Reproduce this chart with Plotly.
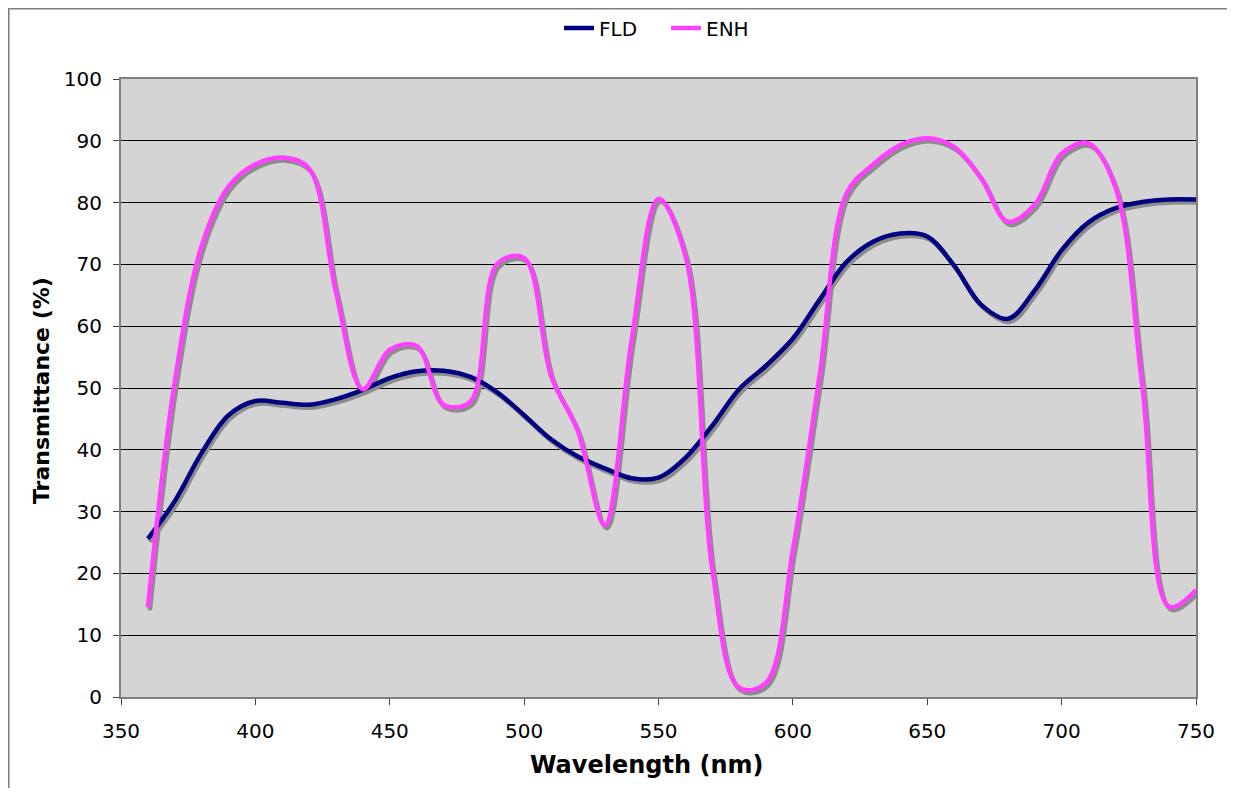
import plotly.graph_objects as go

wavelength = [360, 370, 380, 390, 400, 410, 420, 430, 440, 450,
              460, 470, 480, 490, 500, 510, 520, 530, 540, 550,
              560, 570, 580, 590, 600, 610, 620, 630, 640, 650,
              660, 670, 680, 690, 700, 710, 720, 730, 740, 750]

fld = [25.6, 31.7, 39.5, 45.6, 47.9, 47.6, 47.3, 48.2, 49.7, 51.6,
       52.7, 52.8, 51.8, 49.3, 45.6, 41.7, 38.9, 37.0, 35.4, 35.5,
       38.7, 43.9, 49.8, 53.6, 58.0, 64.3, 70.4, 73.7, 75.0, 74.5,
       69.8, 63.5, 61.2, 65.8, 72.3, 76.8, 79.1, 80.1, 80.5, 80.5]

enh = [14.5, 51.0, 73.0, 82.6, 86.2, 87.3, 85.5, 65.5, 49.8, 56.2,
       56.8, 47.3, 47.8, 70.1, 71.0, 52.0, 43.0, 27.8, 57.8, 80.6,
       71.4, 20.7, 1.5, 2.3, 23.8, 52.2, 81.5, 86.2, 89.3, 90.4,
       89.0, 84.0, 76.9, 79.7, 87.9, 89.6, 82.5, 50.4, 14.6, 17.3]

x_ticks = [350, 400, 450, 500, 550, 600, 650, 700, 750]
y_ticks = [0, 10, 20, 30, 40, 50, 60, 70, 80, 90, 100]

FONT = "DejaVu Sans"
SHADOW = "#8c8c8c"
LW = 4.5

fig = go.Figure()

# empty trace so the main (visible) axes get drawn
fig.add_trace(go.Scatter(x=[], y=[], mode="lines", showlegend=False, hoverinfo="skip",
                         xaxis="x", yaxis="y"))

# shadows (offset overlay axes)
for ys in (fld, enh):
    fig.add_trace(go.Scatter(x=wavelength, y=ys, mode="lines",
                             line=dict(color=SHADOW, width=LW, shape="spline", smoothing=1),
                             xaxis="x2", yaxis="y2", showlegend=False, hoverinfo="skip"))

fig.add_trace(go.Scatter(x=wavelength, y=fld, mode="lines", name="FLD",
                         line=dict(color="#000080", width=LW, shape="spline", smoothing=1),
                         xaxis="x3", yaxis="y3"))
fig.add_trace(go.Scatter(x=wavelength, y=enh, mode="lines", name="ENH",
                         line=dict(color="#ff40ff", width=LW, shape="spline", smoothing=1),
                         xaxis="x3", yaxis="y3"))

# figure is autosized inside the page body (8px offset): 1219 x 780
W, H = 1219, 780
L, R, T, B = 113, 31, 71, 91
pw = W - L - R
ph = H - T - B
dx_px, dy_px = 2.0, 3.0
xr = [350, 750]
yr = [0, 100]
xs = dx_px * (xr[1] - xr[0]) / pw
ys_ = dy_px * (yr[1] - yr[0]) / ph

fig.update_layout(
    margin=dict(l=L, r=R, t=T, b=B, autoexpand=False),
    paper_bgcolor="white",
    plot_bgcolor="#d4d4d4",
    font=dict(family=FONT, size=20, color="black"),
    showlegend=True,
    legend=dict(orientation="h", x=0.507, xanchor="center", y=1.0825, yanchor="middle",
                font=dict(family=FONT, size=20), bgcolor="rgba(0,0,0,0)",
                tracegroupgap=0, entrywidth=62, entrywidthmode="pixels"),
    xaxis=dict(range=xr, tickvals=x_ticks, ticks="outside", ticklen=6, tickcolor="#404040",
               tickwidth=1, showgrid=False, zeroline=False, showline=True, linecolor="#808080",
               linewidth=2, mirror=True, ticklabelstandoff=9),
    yaxis=dict(range=yr, tickvals=y_ticks, ticks="outside", ticklen=6, tickcolor="#404040",
               tickwidth=1, showgrid=True, gridcolor="black", gridwidth=1, zeroline=False,
               showline=True, linecolor="#808080", linewidth=2, mirror=True,
               ticklabelstandoff=7),
    xaxis2=dict(range=[xr[0] - xs, xr[1] - xs], overlaying="x", anchor="y2", visible=False),
    yaxis2=dict(range=[yr[0] + ys_, yr[1] + ys_], overlaying="y", anchor="x2", visible=False),
    xaxis3=dict(range=xr, overlaying="x", anchor="y3", visible=False),
    yaxis3=dict(range=yr, overlaying="y", anchor="x3", visible=False),
)

# axis titles
fig.add_annotation(text="<b>Wavelength (nm)</b>", xref="paper", yref="paper",
                   x=0.4893, y=-0.110, xanchor="center", yanchor="middle", showarrow=False,
                   font=dict(family=FONT, size=24, color="black"))
fig.add_annotation(text="<b>Transmittance (%)</b>", xref="paper", yref="paper",
                   x=-0.0735, y=0.4968, xanchor="center", yanchor="middle", showarrow=False,
                   textangle=-90, font=dict(family=FONT, size=22, color="black"))

# outer chart border (left and top edges visible), drawn as thin filled strips
bl = (0.0 - L) / pw
br = (1.6 - L) / pw
bt = (H - B - 0.0) / ph
bb = (H - B - 1.6) / ph
fig.add_shape(type="rect", xref="paper", yref="paper", x0=bl, x1=br, y0=-B / ph, y1=bt,
              fillcolor="#808080", line=dict(width=0), layer="above")
fig.add_shape(type="rect", xref="paper", yref="paper", x0=bl, x1=(W - L) / pw, y0=bb, y1=bt,
              fillcolor="#808080", line=dict(width=0), layer="above")

fig.write_html("out.html")
